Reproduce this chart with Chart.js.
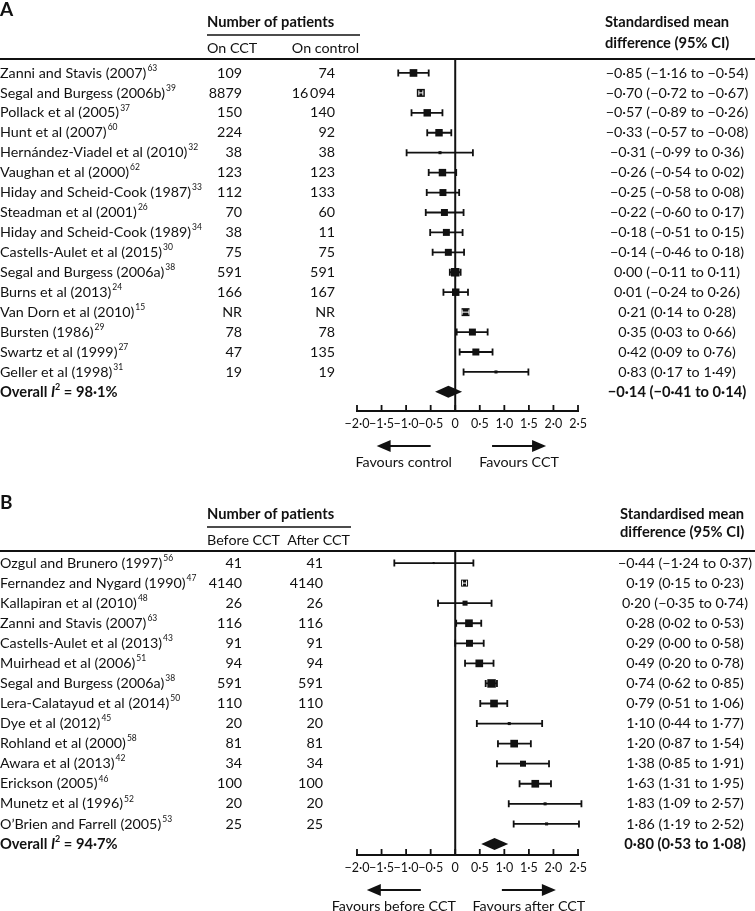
<!DOCTYPE html>
<html>
<head>
<meta charset="utf-8">
<script src="https://cdn.jsdelivr.net/npm/chart.js@4.4.1/dist/chart.umd.min.js"></script>
<style>
  body { margin: 0; background: #fff; }
  .panel { position: absolute; left: 0; width: 755px; }
  #wrapA { top: 0; height: 492px; }
  #wrapB { top: 492px; height: 419px; }
</style>
</head>
<body>
<div class="panel" id="wrapA"><canvas id="chartA"></canvas></div>
<div class="panel" id="wrapB"><canvas id="chartB"></canvas></div>
<script>
// ---- panel A: CCT vs control ----
const studiesA = ['Zanni and Stavis (2007)', 'Segal and Burgess (2006b)', 'Pollack et al (2005)', 'Hunt et al (2007)',
    'Hernández-Viadel et al (2010)', 'Vaughan et al (2000)', 'Hiday and Scheid-Cook (1987)', 'Steadman et al (2001)',
    'Hiday and Scheid-Cook (1989)', 'Castells-Aulet et al (2015)', 'Segal and Burgess (2006a)', 'Burns et al (2013)',
    'Van Dorn et al (2010)', 'Bursten (1986)', 'Swartz et al (1999)', 'Geller et al (1998)'];
const refsA = ['63', '39', '37', '60', '32', '62', '33', '26', '34', '30', '38', '24', '15', '29', '27', '31'];
const onCCT = [109, 8879, 150, 224, 38, 123, 112, 70, 38, 75, 591, 166, null, 78, 47, 19];
const onControl = [74, 16094, 140, 92, 38, 123, 133, 60, 11, 75, 591, 167, null, 78, 135, 19];
const smdA = [-0.85, -0.70, -0.57, -0.33, -0.31, -0.26, -0.25, -0.22, -0.18, -0.14, 0.00, 0.01, 0.21, 0.35, 0.42, 0.83];
const lowA = [-1.16, -0.72, -0.89, -0.57, -0.99, -0.54, -0.58, -0.60, -0.51, -0.46, -0.11, -0.24, 0.14, 0.03, 0.09, 0.17];
const highA = [-0.54, -0.67, -0.26, -0.08, 0.36, 0.02, 0.08, 0.17, 0.15, 0.18, 0.11, 0.26, 0.28, 0.66, 0.76, 1.49];
const weightA = [7.0, 7.6, 6.6, 6.6, 1.1, 6.6, 5.8, 5.8, 5.8, 5.8, 8.6, 6.6, 7.6, 5.8, 5.8, 1.1];
const overallA = { smd: -0.14, low: -0.41, high: 0.14, i2: 98.1 };

// ---- panel B: before vs after CCT ----
const studiesB = ['Ozgul and Brunero (1997)', 'Fernandez and Nygard (1990)', 'Kallapiran et al (2010)', 'Zanni and Stavis (2007)',
    'Castells-Aulet et al (2013)', 'Muirhead et al (2006)', 'Segal and Burgess (2006a)', 'Lera-Calatayud et al (2014)',
    'Dye et al (2012)', 'Rohland et al (2000)', 'Awara et al (2013)', 'Erickson (2005)', 'Munetz et al (1996)',
    'O’Brien and Farrell (2005)'];
const refsB = ['56', '47', '48', '63', '43', '51', '38', '50', '45', '58', '42', '46', '52', '53'];
const beforeCCT = [41, 4140, 26, 116, 91, 94, 591, 110, 20, 81, 34, 100, 20, 25];
const afterCCT = [41, 4140, 26, 116, 91, 94, 591, 110, 20, 81, 34, 100, 20, 25];
const smdB = [-0.44, 0.19, 0.20, 0.28, 0.29, 0.49, 0.74, 0.79, 1.10, 1.20, 1.38, 1.63, 1.83, 1.86];
const lowB = [-1.24, 0.15, -0.35, 0.02, 0.00, 0.20, 0.62, 0.51, 0.44, 0.87, 0.85, 1.31, 1.09, 1.19];
const highB = [0.37, 0.23, 0.74, 0.53, 0.58, 0.78, 0.85, 1.06, 1.77, 1.54, 1.91, 1.95, 2.57, 2.52];
const weightB = [0.5, 5.8, 3.0, 7.0, 5.8, 7.0, 8.6, 7.0, 1.1, 7.0, 4.3, 7.0, 1.1, 1.1];
const overallB = { smd: 0.80, low: 0.53, high: 1.08, i2: 94.7 };

const tickValues = [-2, -1.5, -1, -0.5, 0, 0.5, 1, 1.5, 2, 2.5];
const tickLabels = ['−2·0', '−1·5', '−1·0', '−0·5', '0', '0·5', '1·0', '1·5', '2·0', '2·5'];

const FONT = 'Lato, "Open Sans", sans-serif';
const INK = '#111';
const REG = `14.3px ${FONT}`;
const BOLD = `bold 14.7px ${FONT}`;

function fmt(v) {
    return (v < 0 ? '−' : '') + Math.abs(v).toFixed(2).replace('.', '·');
}
function fmtN(n) {
    if (n === null) return 'NR';
    let s = String(n);
    if (n >= 10000) s = s.slice(0, -3) + '\u2009' + s.slice(-3);
    return s;
}
function boxSide(w) {
    return 2.9 * Math.sqrt(w);
}

function arrow(ctx, x1, x2, y) {
    const dir = Math.sign(x2 - x1);
    ctx.beginPath();
    ctx.moveTo(x1, y);
    ctx.lineTo(x2 - dir * 12, y);
    ctx.lineWidth = 2;
    ctx.stroke();
    ctx.beginPath();
    ctx.moveTo(x2, y);
    ctx.lineTo(x2 - dir * 14, y - 6);
    ctx.lineTo(x2 - dir * 14, y + 6);
    ctx.closePath();
    ctx.fill();
}

function makeForest(canvasId, p) {
    const n = p.studies.length;
    const points = p.smd.map((v, i) => ({ x: v, y: i }));

    const ciInsideBox = (chart, i) => {
        const xs = chart.scales.x;
        return xs.getPixelForValue(p.high[i]) - xs.getPixelForValue(p.low[i]) < boxSide(p.weight[i]);
    };

    const forestPlugin = {
        id: 'forest',
        beforeDatasetsDraw(chart) {
            const { ctx, chartArea, scales: { x, y } } = chart;
            ctx.save();
            ctx.strokeStyle = INK;
            // header rule
            ctx.lineWidth = 2;
            ctx.beginPath();
            ctx.moveTo(0, chartArea.top);
            ctx.lineTo(chart.width, chartArea.top);
            ctx.stroke();
            // line of no effect
            const x0 = x.getPixelForValue(0);
            ctx.lineWidth = 2;
            ctx.beginPath();
            ctx.moveTo(x0, chartArea.top);
            ctx.lineTo(x0, chartArea.bottom);
            ctx.stroke();
            // confidence intervals
            ctx.lineWidth = 1.8;
            for (let i = 0; i < n; i++) {
                if (ciInsideBox(chart, i)) continue;
                const yy = y.getPixelForValue(i);
                const xl = x.getPixelForValue(p.low[i]);
                const xh = x.getPixelForValue(p.high[i]);
                ctx.beginPath();
                ctx.moveTo(xl, yy);
                ctx.lineTo(xh, yy);
                ctx.moveTo(xl, yy - 3.5);
                ctx.lineTo(xl, yy + 3.5);
                ctx.moveTo(xh, yy - 3.5);
                ctx.lineTo(xh, yy + 3.5);
                ctx.stroke();
            }
            ctx.restore();
        },
        afterDatasetsDraw(chart) {
            const { ctx, scales: { x, y } } = chart;
            ctx.save();
            // narrow intervals drawn in white inside the box
            ctx.strokeStyle = '#fff';
            ctx.lineWidth = 1;
            for (let i = 0; i < n; i++) {
                if (!ciInsideBox(chart, i)) continue;
                const yy = y.getPixelForValue(i);
                const xc = x.getPixelForValue(p.smd[i]);
                let xl = x.getPixelForValue(p.low[i]);
                let xh = x.getPixelForValue(p.high[i]);
                if (xh - xl < 4) { xl = xc - 2; xh = xc + 2; }
                ctx.beginPath();
                ctx.moveTo(xl, yy);
                ctx.lineTo(xh, yy);
                ctx.moveTo(xl, yy - 2.5);
                ctx.lineTo(xl, yy + 2.5);
                ctx.moveTo(xh, yy - 2.5);
                ctx.lineTo(xh, yy + 2.5);
                ctx.stroke();
            }
            // pooled diamond
            ctx.fillStyle = INK;
            const yd = y.getPixelForValue(n);
            ctx.beginPath();
            ctx.moveTo(x.getPixelForValue(p.overall.low), yd);
            ctx.lineTo(x.getPixelForValue(p.overall.smd), yd - 6);
            ctx.lineTo(x.getPixelForValue(p.overall.high), yd);
            ctx.lineTo(x.getPixelForValue(p.overall.smd), yd + 6);
            ctx.closePath();
            ctx.fill();
            ctx.restore();
        },
        afterDraw(chart) {
            const { ctx, chartArea, scales: { x, y } } = chart;
            ctx.save();
            ctx.fillStyle = INK;
            ctx.strokeStyle = INK;
            ctx.textBaseline = 'middle';

            // upward tick marks on the axis
            ctx.lineWidth = 1.8;
            tickValues.forEach(v => {
                const tx = x.getPixelForValue(v);
                ctx.beginPath();
                ctx.moveTo(tx, chartArea.bottom);
                ctx.lineTo(tx, chartArea.bottom - 6);
                ctx.stroke();
            });

            // headings
            ctx.textAlign = 'left';
            ctx.font = `bold 19px ${FONT}`;
            ctx.fillText(p.letter, 0, p.letterY);
            ctx.font = BOLD;
            ctx.fillText('Number of patients', 207, 22);
            ctx.fillText('Standardised mean', p.resultHeadX, 22);
            ctx.fillText('difference (95% CI)', p.resultHeadX, p.head2Y);
            ctx.lineWidth = 1.4;
            ctx.beginPath();
            ctx.moveTo(207, 35);
            ctx.lineTo(p.groupRuleRight, 35);
            ctx.stroke();
            ctx.font = REG;
            ctx.fillText(p.groups[0], 207, 48);
            ctx.textAlign = 'right';
            ctx.fillText(p.groups[1], p.groupRuleRight - 1, 48);

            // study rows
            for (let i = 0; i < n; i++) {
                const yy = y.getPixelForValue(i);
                ctx.textAlign = 'left';
                ctx.font = REG;
                ctx.fillText(p.studies[i], 0, yy);
                const w = ctx.measureText(p.studies[i]).width;
                ctx.font = `8.5px ${FONT}`;
                ctx.fillText(p.refs[i], w + 1, yy - 5);
                ctx.font = REG;
                ctx.textAlign = 'right';
                ctx.fillText(fmtN(p.countA[i]), p.colA, yy);
                ctx.fillText(fmtN(p.countB[i]), p.colB, yy);
                ctx.textAlign = 'center';
                ctx.fillText(`${fmt(p.smd[i])} (${fmt(p.low[i])} to ${fmt(p.high[i])})`, p.resultX, yy);
            }

            // overall row
            const yo = y.getPixelForValue(n);
            ctx.textAlign = 'left';
            let cx = 0;
            const part = (txt, font, dy) => {
                ctx.font = font;
                ctx.fillText(txt, cx, yo + (dy || 0));
                cx += ctx.measureText(txt).width;
            };
            part('Overall ', BOLD);
            part('I', `italic ${BOLD}`);
            part('2', `bold 9px ${FONT}`, -5);
            part(' = ' + p.overall.i2.toFixed(1).replace('.', '·') + '%', BOLD);
            ctx.textAlign = 'center';
            ctx.font = BOLD;
            const o = p.overall;
            ctx.fillText(`${fmt(o.smd)} (${fmt(o.low)} to ${fmt(o.high)})`, p.resultX, yo);

            // direction arrows
            const ya = chartArea.bottom + 35;
            ctx.font = REG;
            p.favours.forEach(f => {
                const x1 = x.getPixelForValue(f.from);
                const x2 = x.getPixelForValue(f.to);
                arrow(ctx, x1, x2, ya);
                ctx.fillText(f.label, (x1 + x2) / 2, ya + 16);
            });
            ctx.restore();
        }
    };

    return new Chart(document.getElementById(canvasId), {
        type: 'scatter',
        data: {
            datasets: [{
                data: points,
                pointStyle: 'rect',
                pointRadius: (c) => boxSide(p.weight[c.dataIndex]) * Math.SQRT1_2,
                pointHoverRadius: (c) => boxSide(p.weight[c.dataIndex]) * Math.SQRT1_2,
                pointBackgroundColor: INK,
                pointBorderWidth: 0,
            }],
        },
        options: {
            responsive: true,
            maintainAspectRatio: false,
            animation: false,
            layout: { padding: { left: 357, right: 177, top: 59, bottom: p.bottomPad } },
            scales: {
                x: {
                    type: 'linear',
                    min: -2,
                    max: 2.5,
                    afterBuildTicks: (s) => { s.ticks = tickValues.map(v => ({ value: v })); },
                    afterFit: (s) => { s.height = 20; },
                    ticks: {
                        callback: (v) => tickLabels[tickValues.indexOf(v)],
                        font: { family: FONT, size: 12.5 },
                        color: INK,
                        padding: 5,
                        maxRotation: 0,
                        autoSkip: false,
                    },
                    grid: { display: false, drawTicks: false },
                    border: { display: true, color: INK, width: 2 },
                },
                y: {
                    type: 'linear',
                    reverse: true,
                    min: p.yMin,
                    max: p.yMax,
                    display: false,
                },
            },
            plugins: {
                legend: { display: false },
                tooltip: { enabled: false },
            },
        },
        plugins: [forestPlugin],
    });
}

makeForest('chartA', {
    letter: 'A', letterY: 10, head2Y: 43,
    studies: studiesA, refs: refsA, countA: onCCT, countB: onControl,
    smd: smdA, low: lowA, high: highA, weight: weightA, overall: overallA,
    groups: ['On CCT', 'On control'], groupRuleRight: 360, colA: 242, colB: 335,
    resultX: 677, resultHeadX: 605,
    yMin: -0.7, yMax: 16.96, bottomPad: 61,
    favours: [
        { from: -0.5, to: -1.6, label: 'Favours control' },
        { from: 0.75, to: 1.85, label: 'Favours CCT' },
    ],
});

makeForest('chartB', {
    letter: 'B', letterY: 11, head2Y: 40,
    studies: studiesB, refs: refsB, countA: beforeCCT, countB: afterCCT,
    smd: smdB, low: lowB, high: highB, weight: weightB, overall: overallB,
    groups: ['Before CCT', 'After CCT'], groupRuleRight: 351, colA: 242, colB: 323,
    resultX: 685, resultHeadX: 620,
    yMin: -0.6, yMax: 14.55, bottomPad: 36,
    favours: [
        { from: -0.7, to: -1.8, label: 'Favours before CCT' },
        { from: 0.95, to: 2.05, label: 'Favours after CCT' },
    ],
});
</script>
</body>
</html>
